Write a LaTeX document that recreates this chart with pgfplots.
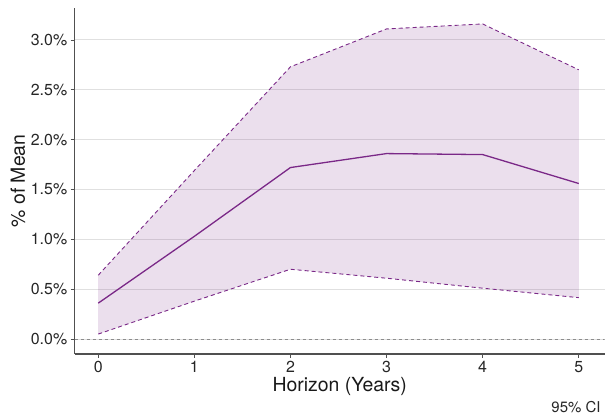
\documentclass[border=0pt]{standalone}
\usepackage{fontspec}
\setmainfont{TeX Gyre Heros}
\usepackage{pgfplots}
\pgfplotsset{compat=1.18}
\usepgfplotslibrary{fillbetween}
\definecolor{cipurple}{RGB}{122,40,135}
\definecolor{gridgray}{RGB}{224,224,224}
\definecolor{spine}{RGB}{80,80,80}
\begin{document}
\begin{tikzpicture}
\begin{axis}[
  at={(74.7bp,65bp)}, anchor=south west,
  scale only axis, width=530bp, height=346bp,
  xmin=-0.245, xmax=5.27, ymin=-0.15, ymax=3.32,
  axis x line*=bottom, axis y line*=left,
  axis line style={draw=spine, line width=1.1bp},
  tick align=outside,
  major tick length=4bp,
  tick style={draw=spine, line width=0.8bp},
  xtick={0,1,2,3,4,5},
  ytick={0,0.5,1,1.5,2,2.5,3},
  yticklabel={\pgfmathprintnumber[fixed,fixed zerofill,precision=1]{\tick}\%},
  /pgf/number format/assume math mode=true,
  ticklabel style={font=\fontsize{16}{16}\selectfont, text=black!85},
  ymajorgrids,
  grid style={draw=gridgray, line width=1bp},
  xlabel={Horizon (Years)},
  ylabel={\% of Mean},
  xlabel style={at={(axis description cs:0.5,0)}, anchor=base, yshift=-37.7bp, font=\fontsize{19.5}{19.5}\selectfont, text=black!90},
  ylabel style={at={(axis description cs:0,0.5)}, anchor=center, yshift=56.7bp, font=\fontsize{19.5}{19.5}\selectfont, text=black!90},
]
\addplot[draw=gray!90, dash pattern=on 3bp off 3bp, line width=0.8bp, forget plot] coordinates {(-0.245,0) (5.27,0)};
\addplot[name path=up, draw=cipurple, dash pattern=on 4bp off 3bp, line width=0.9bp] coordinates {
(0,0.64) (1,1.69) (2,2.73) (3,3.11) (4,3.16) (5,2.70)};
\addplot[name path=lo, draw=cipurple, dash pattern=on 4bp off 3bp, line width=0.9bp] coordinates {
(0,0.05) (1,0.38) (2,0.70) (3,0.61) (4,0.51) (5,0.415)};
\addplot[fill=cipurple, fill opacity=0.15, draw=none] fill between[of=up and lo];
\addplot[draw=cipurple, line width=1.3bp] coordinates {
(0,0.36) (1,1.03) (2,1.72) (3,1.86) (4,1.85) (5,1.56)};
\end{axis}
\node[anchor=base east, font=\fontsize{15}{15}\selectfont, text=black!85] at (604bp,6.3bp) {95\% CI};
\path (0bp,0bp) rectangle (606bp,419bp);
\end{tikzpicture}
\end{document}
